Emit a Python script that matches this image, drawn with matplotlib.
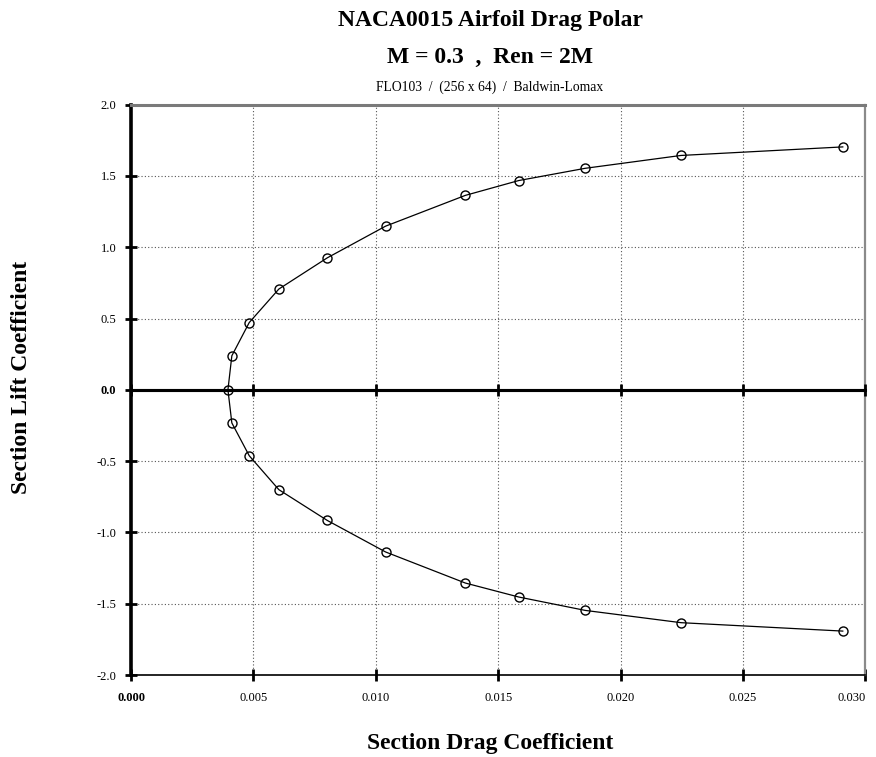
import matplotlib
matplotlib.use("Agg")
import matplotlib.pyplot as plt
import numpy as np

plt.rcParams['font.family'] = ['Liberation Serif', 'DejaVu Serif']

# Data
cd_values = [0.00396, 0.00412, 0.00483, 0.00604, 0.00802, 0.01040,
             0.01366, 0.01584, 0.01856, 0.02247, 0.02908]
cl_upper = [0.0, 0.239, 0.472, 0.707, 0.926, 1.148,
            1.364, 1.468, 1.554, 1.644, 1.704]
cl_lower = [-0.232, -0.462, -0.700, -0.916, -1.137,
            -1.355, -1.453, -1.547, -1.633, -1.692]

# Full polar traced from lower surface tip through zero to upper tip
cd_polar = cd_values[1:][::-1] + cd_values
cl_polar = cl_lower[::-1] + cl_upper

x_ticks = [0.000, 0.005, 0.010, 0.015, 0.020, 0.025, 0.030]
x_tick_labels = ["0.000", "0.005", "0.010", "0.015", "0.020", "0.025", "0.030"]
y_ticks = [-2.0, -1.5, -1.0, -0.5, 0.0, 0.5, 1.0, 1.5, 2.0]
y_tick_labels = ["-2.0", "-1.5", "-1.0", "-0.5", "0.0", "0.5", "1.0", "1.5", "2.0"]

title1 = "NACA0015 Airfoil Drag Polar"
title2 = "M = 0.3  ,  Ren = 2M"
subtitle = "FLO103  /  (256 x 64)  /  Baldwin-Lomax"
xlabel = "Section Drag Coefficient"
ylabel = "Section Lift Coefficient"

fig = plt.figure(figsize=(8.76, 7.57), dpi=100)
rect = [131/876, 82/757, (865.3-131)/876, (675-104.7)/757]
ax = fig.add_axes(rect)

ax.set_xlim(0, 0.030)
ax.set_ylim(-2, 2)
ax.set_xticks(x_ticks)
ax.set_xticklabels(x_tick_labels)
ax.set_yticks(y_ticks)
ax.set_yticklabels(y_tick_labels)

ax.grid(True, color='#555555', linestyle=(0, (1, 2)), linewidth=0.8)
ax.set_axisbelow(True)

ax.axhline(0, color='black', linewidth=2.2, zorder=3)

ax.plot(cd_polar, cl_polar, color='black', linewidth=0.9, marker='o',
        markersize=6.5, markerfacecolor='none', markeredgecolor='black',
        markeredgewidth=1.0, zorder=5, clip_on=False)

# spines
ax.spines['left'].set_linewidth(2.6)
ax.spines['left'].set_color('black')
ax.spines['top'].set_linewidth(2.2)
ax.spines['top'].set_color('#7a7a7a')
ax.spines['right'].set_linewidth(1.6)
ax.spines['right'].set_color('#8a8a8a')
ax.spines['bottom'].set_linewidth(1.2)
ax.spines['bottom'].set_color('black')

ax.tick_params(axis='y', direction='inout', length=9, width=2.0, labelsize=9,
               pad=6, colors='black')
ax.tick_params(axis='x', direction='inout', length=9, width=2.0, labelsize=9,
               pad=8, colors='black')
ax.tick_params(top=False, right=False)

for lbl in ax.get_xticklabels():
    if lbl.get_text() == "0.000":
        lbl.set_fontweight('bold')
    if lbl.get_text() == "0.030":
        lbl.set_horizontalalignment('right')
for lbl in ax.get_yticklabels():
    if lbl.get_text() == "0.0":
        lbl.set_fontweight('bold')

# tick marks on the zero line
ax2 = fig.add_axes(rect, sharex=ax, sharey=ax)
ax2.patch.set_visible(False)
for s in ['top', 'right', 'left']:
    ax2.spines[s].set_visible(False)
ax2.spines['bottom'].set_position(('data', 0))
ax2.spines['bottom'].set_linewidth(2.2)
ax2.spines['bottom'].set_color('black')
ax2.tick_params(axis='x', direction='inout', length=8, width=2.0,
                labelbottom=False, top=False)
ax2.tick_params(axis='y', left=False, labelleft=False)

cx = 490/876
fig.text(cx, 1 - 26/757, title1, ha='center', va='baseline',
         fontsize=17, fontweight='bold')
fig.text(cx, 1 - 63/757, title2, ha='center', va='baseline',
         fontsize=17, fontweight='bold')
fig.text(cx, 1 - 91/757, subtitle, ha='center', va='baseline', fontsize=9.8)

fig.text(cx, 1 - 749/757, xlabel, ha='center', va='baseline',
         fontsize=17, fontweight='bold')
fig.text(22/876, 1 - 377/757, ylabel, ha='center', va='center',
         fontsize=17, fontweight='bold', rotation=90)

fig.savefig('out.png', dpi=100)
